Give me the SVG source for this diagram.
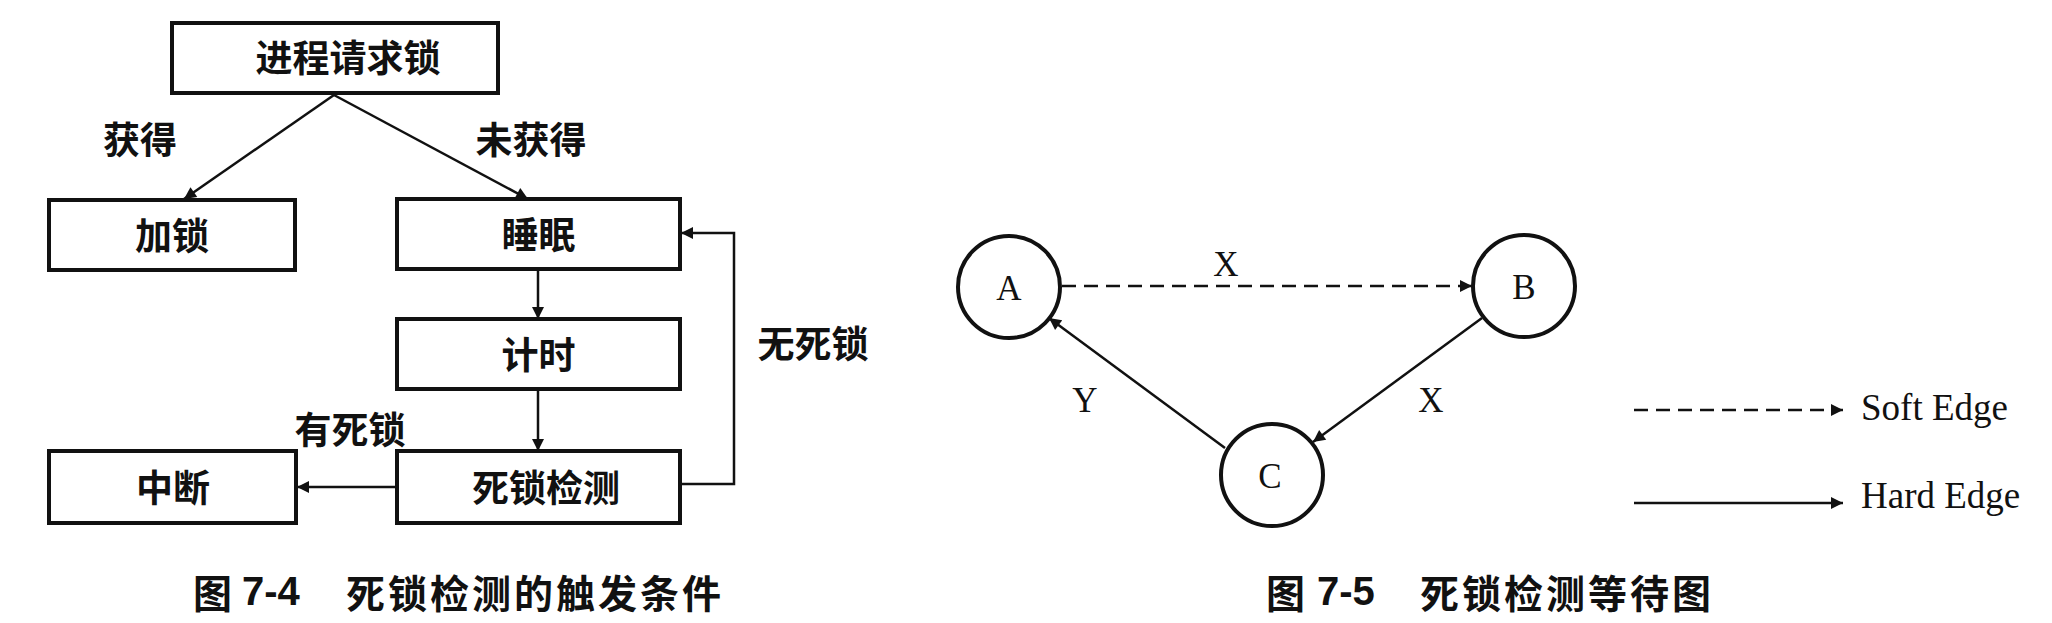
<svg xmlns="http://www.w3.org/2000/svg" width="2052" height="623" viewBox="0 0 2052 623">
<style>
.box{fill:#fff;stroke:#111;stroke-width:4}
.cn{font-family:"Noto Sans CJK SC","Noto Sans",sans-serif;font-weight:bold;font-size:37px;fill:#111;text-anchor:middle;dominant-baseline:central}
.cap{font-family:"Noto Sans CJK SC","Noto Sans",sans-serif;font-weight:bold;font-size:39px;letter-spacing:3px;fill:#111;dominant-baseline:central}
.num{font-family:"Liberation Sans",sans-serif;font-weight:bold;font-size:40px;fill:#111;dominant-baseline:central}
.edge{fill:none;stroke:#111;stroke-width:2.5}
.dash{stroke-dasharray:14 8}
.circ{fill:#fff;stroke:#111;stroke-width:4}
.lt{font-family:"Liberation Serif",serif;font-size:35px;fill:#111;text-anchor:middle;dominant-baseline:central}
.lg{font-family:"Liberation Serif",serif;font-size:37px;fill:#111}
</style>
<defs>
<marker id="ah" viewBox="0 0 10 10" refX="10" refY="5" markerUnits="userSpaceOnUse" markerWidth="18" markerHeight="12" orient="auto">
<path d="M0,0 L10,5 L0,10 z" fill="#111"/>
</marker>
<marker id="ahl" viewBox="0 0 10 10" refX="10" refY="5" markerUnits="userSpaceOnUse" markerWidth="22" markerHeight="12" orient="auto">
<path d="M0,0 L10,5 L0,10 z" fill="#111"/>
</marker>
</defs>
<rect width="2052" height="623" fill="#fff"/>

<g id="connectors">
<path class="edge" d="M334,95 L184,199" marker-end="url(#ah)"/>
<path class="edge" d="M334,95 L528,199" marker-end="url(#ah)"/>
<path class="edge" d="M538,269 L538,319" marker-end="url(#ah)"/>
<path class="edge" d="M538,389 L538,451" marker-end="url(#ah)"/>
<path class="edge" d="M397,487 L297,487" marker-end="url(#ah)"/>
<path class="edge" d="M680,484 L734,484 L734,233 L681,233" marker-end="url(#ah)"/>
<path class="edge dash" d="M1062,286 L1472,286" marker-end="url(#ah)"/>
<path class="edge" d="M1225,448 L1049,318" marker-end="url(#ah)"/>
<path class="edge" d="M1482,318 L1313,442" marker-end="url(#ah)"/>
<path class="edge dash" d="M1634,410 L1843,410" marker-end="url(#ahl)"/>
<path class="edge" d="M1634,503 L1843,503" marker-end="url(#ahl)"/>
</g>

<g id="edge-labels">
<text class="cn" x="140" y="138">获得</text>
<text class="cn" x="531" y="138">未获得</text>
<text class="cn" x="350" y="428">有死锁</text>
<text class="cn" x="813" y="342">无死锁</text>
<text class="lt" x="1226" y="264">X</text>
<text class="lt" x="1085" y="400">Y</text>
<text class="lt" x="1431" y="400">X</text>
</g>

<g id="n-request"><rect class="box" x="172" y="23" width="326" height="70"/><text class="cn" x="348" y="56">进程请求锁</text></g>
<g id="n-lock"><rect class="box" x="49" y="200" width="246" height="70"/><text class="cn" x="172" y="234">加锁</text></g>
<g id="n-sleep"><rect class="box" x="397" y="199" width="283" height="70"/><text class="cn" x="538.5" y="233">睡眠</text></g>
<g id="n-timer"><rect class="box" x="397" y="319" width="283" height="70"/><text class="cn" x="538.5" y="353">计时</text></g>
<g id="n-detect"><rect class="box" x="397" y="451" width="283" height="72"/><text class="cn" x="546" y="486">死锁检测</text></g>
<g id="n-abort"><rect class="box" x="49" y="451" width="247" height="72"/><text class="cn" x="173" y="486">中断</text></g>

<g id="n-A"><circle class="circ" cx="1009" cy="287" r="51"/><text class="lt" x="1009" y="288">A</text></g>
<g id="n-B"><circle class="circ" cx="1524" cy="286" r="51"/><text class="lt" x="1524" y="287">B</text></g>
<g id="n-C"><circle class="circ" cx="1272" cy="475" r="51"/><text class="lt" x="1270" y="476">C</text></g>

<g id="legend">
<text class="lg" x="1861" y="420">Soft Edge</text>
<text class="lg" x="1861" y="508">Hard Edge</text>
</g>

<g id="captions">
<text y="591"><tspan class="cap" x="193">图</tspan><tspan class="num" x="242">7-4</tspan><tspan class="cap" x="346">死锁检测的触发条件</tspan></text>
<text y="591"><tspan class="cap" x="1266">图</tspan><tspan class="num" x="1317">7-5</tspan><tspan class="cap" x="1420">死锁检测等待图</tspan></text>
</g>
</svg>
